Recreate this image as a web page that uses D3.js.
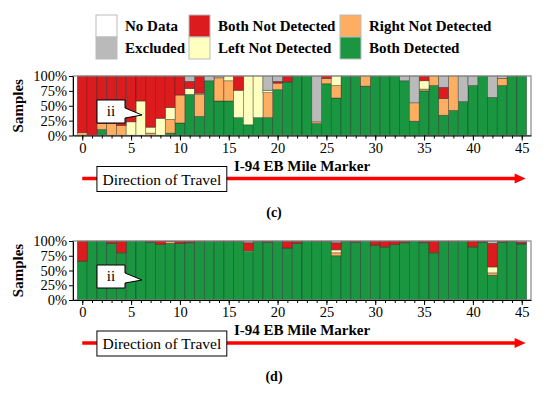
<!DOCTYPE html>
<html>
<head>
<meta charset="utf-8">
<script src="https://cdn.jsdelivr.net/npm/d3@7"></script>
<style>
    body { margin: 0; background: #fff; }
    svg text { font-family: 'Liberation Serif', 'Times New Roman', 'DejaVu Serif', serif; fill: #000; }
    .axes text { font-size: 14.5px; }
    .axes path, .axes line { stroke: #000; }
</style>
</head>
<body>
<script>
const W = 550, H = 395;
const FONT = "'Liberation Serif', 'Times New Roman', 'DejaVu Serif', serif";

// mile markers (one bar per mile)
const miles = [0, 1, 2, 3, 4, 5, 6, 7, 8, 9, 10, 11, 12, 13, 14, 15, 16, 17, 18, 19, 20, 21, 22,
    23, 24, 25, 26, 27, 28, 29, 30, 31, 32, 33, 34, 35, 36, 37, 38, 39, 40, 41, 42, 43, 44, 45];
const xTicks = [0, 5, 10, 15, 20, 25, 30, 35, 40, 45];
const yTicks = [0, 25, 50, 75, 100];

const keys = ['both', 'right', 'left', 'none', 'excluded', 'noData'];
const legendLabels = {
    noData: 'No Data', excluded: 'Excluded', none: 'Both Not Detected',
    left: 'Left Not Detected', right: 'Right Not Detected', both: 'Both Detected'
};
const colors = {
    both: '#1a9641', right: '#fdae61', left: '#ffffbf',
    none: '#db1b1d', excluded: '#bababa', noData: '#ffffff'
};

// panel (c) - percent of samples
const cBoth = [0, 0, 10, 0, 0, 0, 0, 0, 0, 4, 21, 69, 32, 92, 58, 58, 30, 18, 30, 30, 77, 90, 100,
    100, 20, 87, 63, 100, 100, 83, 100, 100, 100, 92, 24, 75, 84, 34, 42, 57, 84, 100, 64, 84, 100, 100];
const cRight = [5, 0, 10, 20, 17, 0, 0, 4, 0, 23, 47, 0, 37, 0, 39, 34, 0, 0, 0, 42, 11, 0, 0,
    0, 3, 9, 21, 0, 0, 17, 0, 0, 0, 0, 31, 3, 16, 28, 58, 0, 0, 0, 0, 12, 0, 0];
const cLeft = [0, 0, 0, 0, 0, 23, 58, 10, 29, 20, 0, 10, 2, 0, 0, 8, 46, 82, 70, 4, 0, 0, 0,
    0, 0, 0, 16, 0, 0, 0, 0, 0, 0, 0, 0, 14, 0, 0, 0, 0, 0, 0, 0, 0, 0, 0];
const cNone = [95, 100, 80, 80, 83, 77, 42, 86, 71, 53, 32, 12, 29, 0, 0, 0, 24, 0, 0, 0, 3, 10, 0,
    0, 0, 4, 0, 0, 0, 0, 0, 0, 0, 0, 0, 8, 0, 19, 0, 0, 0, 0, 0, 0, 0, 0];
const cExcluded = [0, 0, 0, 0, 0, 0, 0, 0, 0, 0, 0, 9, 0, 8, 3, 0, 0, 0, 0, 24, 9, 0, 0,
    0, 77, 0, 0, 0, 0, 0, 0, 0, 0, 8, 45, 0, 0, 19, 0, 43, 16, 0, 36, 4, 0, 0];
const cNoData = [0, 0, 0, 0, 0, 0, 0, 0, 0, 0, 0, 0, 0, 0, 0, 0, 0, 0, 0, 0, 0, 0, 0,
    0, 0, 0, 0, 0, 0, 0, 0, 0, 0, 0, 0, 0, 0, 0, 0, 0, 0, 0, 0, 0, 0, 0];

// panel (d) - percent of samples
const dBoth = [66, 100, 100, 96, 80, 100, 100, 98, 94, 96, 96, 97, 99, 100, 99, 99, 99, 82, 99, 98, 100, 88, 96,
    100, 99, 99, 75, 99, 98, 100, 93, 90, 94, 97, 100, 97, 80, 99, 99, 100, 90, 98, 42, 98, 99, 95];
const dRight = [0, 0, 0, 0, 0, 0, 0, 0, 0, 3, 0, 0, 0, 0, 0, 0, 0, 2, 0, 0, 0, 0, 0,
    0, 0, 0, 5, 0, 0, 0, 0, 0, 0, 0, 0, 0, 0, 0, 0, 0, 0, 0, 4, 0, 0, 0];
const dLeft = [0, 0, 0, 0, 0, 0, 0, 0, 0, 0, 0, 0, 0, 0, 0, 0, 0, 0, 0, 0, 0, 0, 0,
    0, 0, 0, 5, 0, 0, 0, 0, 0, 0, 0, 0, 0, 0, 0, 0, 0, 0, 0, 10, 0, 0, 0];
const dNone = [34, 0, 0, 4, 20, 0, 0, 2, 6, 1, 4, 3, 1, 0, 1, 1, 1, 13, 1, 2, 0, 12, 4,
    0, 1, 1, 12, 1, 2, 0, 7, 10, 6, 3, 0, 3, 20, 1, 1, 0, 10, 2, 40, 2, 1, 3];
const dExcluded = [0, 0, 0, 0, 0, 0, 0, 0, 0, 0, 0, 0, 0, 0, 0, 0, 0, 3, 0, 0, 0, 0, 0,
    0, 0, 0, 3, 0, 0, 0, 0, 0, 0, 0, 0, 0, 0, 0, 0, 0, 0, 0, 4, 0, 0, 2];
const dNoData = [0, 0, 0, 0, 0, 0, 0, 0, 0, 0, 0, 0, 0, 0, 0, 0, 0, 0, 0, 0, 0, 0, 0,
    0, 0, 0, 0, 0, 0, 0, 0, 0, 0, 0, 0, 0, 0, 0, 0, 0, 0, 0, 0, 0, 0, 0];

const svg = d3.select('body').append('svg')
    .attr('width', W)
    .attr('height', H)
    .attr('font-family', FONT);

// legend
const legendCols = [['noData', 'excluded'], ['none', 'left'], ['right', 'both']];
const legendX = [96, 189, 340];
const legend = svg.append('g').attr('class', 'legend');
legendCols.forEach((col, ci) => {
    col.forEach((k, ri) => {
        legend.append('rect')
            .attr('x', legendX[ci])
            .attr('y', 15 + ri * 22)
            .attr('width', 21)
            .attr('height', 22)
            .style('fill', colors[k])
            .style('stroke', '#bbb')
            .style('stroke-width', 1);
        legend.append('text')
            .attr('x', legendX[ci] + 29)
            .attr('y', 31 + ri * 22)
            .style('font-family', FONT)
            .style('font-size', '15px')
            .style('font-weight', 'bold')
            .text(legendLabels[k]);
    });
});

const x = d3.scaleLinear().domain([-0.95, 45.95]).range([73, 531]);

function drawPanel (top, bottom, cols, caption) {
    const y = d3.scaleLinear().domain([0, 100]).range([bottom, top]);
    const rows = miles.map((m, i) => {
        const r = { mile: m };
        keys.forEach((k, j) => { r[k] = cols[j][i]; });
        return r;
    });
    const series = d3.stack().keys(keys)(rows);
    const g = svg.append('g');
    const bw = x(1) - x(0);

    // stacked bars
    g.selectAll('.layer')
        .data(series)
        .enter().append('g')
        .attr('class', 'layer')
        .style('fill', d => colors[d.key])
        .selectAll('rect')
        .data(d => d.filter(v => v[1] - v[0] > 0))
        .enter().append('rect')
        .attr('x', d => x(d.data.mile) - bw / 2)
        .attr('y', d => y(d[1]))
        .attr('width', bw)
        .attr('height', d => y(d[0]) - y(d[1]))
        .style('stroke', '#222')
        .style('stroke-opacity', 0.55)
        .style('stroke-width', 0.7);

    // plot frame
    g.append('rect')
        .attr('x', x.range()[0])
        .attr('y', top)
        .attr('width', x.range()[1] - x.range()[0])
        .attr('height', bottom - top)
        .style('fill', 'none')
        .style('stroke', '#888')
        .style('stroke-width', 1.2);

    // minor ticks every mile
    g.append('g')
        .attr('class', 'axes')
        .attr('transform', 'translate(0,' + bottom + ')')
        .call(d3.axisBottom(x).tickValues(miles).tickSize(3).tickFormat(''))
        .call(a => a.select('.domain').remove());
    g.append('g')
        .attr('class', 'axes')
        .attr('transform', 'translate(0,' + bottom + ')')
        .call(d3.axisBottom(x).tickValues(xTicks).tickSize(5).tickSizeOuter(0).tickPadding(2))
        .attr('font-family', FONT);
    g.append('g')
        .attr('class', 'axes')
        .attr('transform', 'translate(' + x.range()[0] + ',0)')
        .call(d3.axisLeft(y).tickValues(yTicks).tickSize(4).tickSizeOuter(0).tickPadding(2)
            .tickFormat(d => d + '%'))
        .attr('font-family', FONT);

    // y label
    g.append('text')
        .attr('transform', 'translate(23,' + (top + bottom) / 2 + ') rotate(-90)')
        .style('text-anchor', 'middle')
        .style('font-size', '15px')
        .style('font-weight', 'bold')
        .text('Samples');

    // x label
    g.append('text')
        .attr('x', x(22.5))
        .attr('y', bottom + 35)
        .style('text-anchor', 'middle')
        .style('font-size', '15px')
        .style('font-weight', 'bold')
        .text('I-94 EB Mile Marker');

    // direction arrow
    const ay = bottom + 43;
    g.append('line')
        .attr('x1', x(0)).attr('x2', x(45.4) - 8)
        .attr('y1', ay).attr('y2', ay)
        .style('stroke', '#ff0000')
        .style('stroke-width', 3.5);
    g.append('path')
        .attr('d', 'M' + x(45.4) + ',' + ay + 'L' + (x(45.4) - 11) + ',' + (ay - 5) +
            'L' + (x(45.4) - 11) + ',' + (ay + 5) + 'Z')
        .style('fill', '#ff0000');
    g.append('rect')
        .attr('x', x(1.5)).attr('y', bottom + 31)
        .attr('width', x(14.8) - x(1.5)).attr('height', 25)
        .style('fill', '#fff')
        .style('stroke', '#000')
        .style('stroke-width', 1);
    g.append('text')
        .attr('x', (x(1.5) + x(14.8)) / 2)
        .attr('y', bottom + 49)
        .style('text-anchor', 'middle')
        .style('font-size', '15.5px')
        .text('Direction of Travel');

    // callout "ii"
    const bx = 97, by = top + 24, bwid = 28, bh = 23;
    g.append('path')
        .attr('d', 'M' + bx + ',' + by + 'H' + (bx + bwid) + 'V' + (by + 8) +
            'L' + (bx + 45) + ',' + (by + 15) + 'L' + (bx + bwid) + ',' + (by + 18) +
            'V' + (by + bh) + 'H' + bx + 'Z')
        .style('fill', '#fff')
        .style('stroke', '#000')
        .style('stroke-width', 1);
    g.append('text')
        .attr('x', bx + bwid / 2)
        .attr('y', by + 16)
        .style('text-anchor', 'middle')
        .style('font-size', '15px')
        .text('ii');

    // caption
    g.append('text')
        .attr('x', 274)
        .attr('y', bottom + 81)
        .style('text-anchor', 'middle')
        .style('font-size', '14px')
        .style('font-weight', 'bold')
        .text(caption);
}

drawPanel(76, 135.5, [cBoth, cRight, cLeft, cNone, cExcluded, cNoData], '(c)');
drawPanel(241, 300, [dBoth, dRight, dLeft, dNone, dExcluded, dNoData], '(d)');
</script>
</body>
</html>
